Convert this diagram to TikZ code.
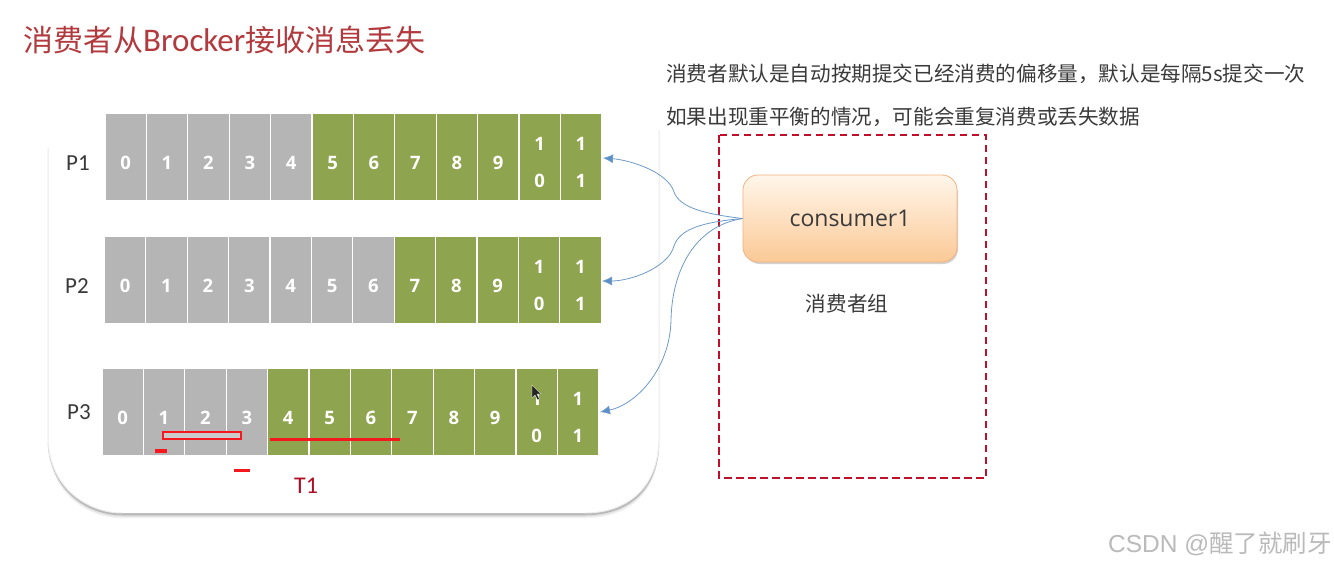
\documentclass[tikz,border=0pt]{standalone}
\usepackage{fontspec}
\setmainfont{Noto Sans CJK SC}
\newfontfamily\numfont{Open Sans}
\newfontfamily\latfont{Carlito}
\newfontfamily\wmfont{Liberation Sans}
\usetikzlibrary{arrows.meta}
\definecolor{cellgray}{HTML}{B5B5B5}
\definecolor{cellgreen}{HTML}{8EA44E}
\definecolor{titlered}{HTML}{B23A3E}
\definecolor{darkred}{HTML}{C00F2A}
\definecolor{linkblue}{HTML}{6F9BC8}
\definecolor{tipblue}{HTML}{5B8FC9}
\definecolor{txt}{HTML}{3A3A3A}
\definecolor{brdorange}{HTML}{F3B27F}
\definecolor{topfill}{HTML}{FFF6EA}
\definecolor{midfill}{HTML}{FFEBD5}
\definecolor{botfill}{HTML}{FBC996}
\definecolor{markred}{HTML}{F5181E}
\newcommand{\fsz}[1]{\fontsize{#1pt}{#1pt}\selectfont}
\tikzset{
  x=1pt,y=-1pt,
  cell/.style={minimum width=40.2pt,minimum height=86pt,inner sep=0pt,outer sep=0pt},
  celltext/.style={inner sep=0pt,text=white,align=center,font=\numfont\bfseries\fontsize{18.5pt}{37pt}\selectfont},
  plabel/.style={text=txt,font=\latfont\fsz{23},inner sep=0pt},
  link/.style={draw=linkblue,line width=0.8pt,-{Latex[length=10pt,width=9pt,fill=tipblue]}},
  redmark/.style={draw=markred,line width=3.2pt},
  cjktext/.style={text=txt,inner sep=0pt,anchor=west,font=\fsz{20.6}}
}
% #1 row name, #2 left x, #3 top y, #4 number of gray cells
\newcommand{\partrow}[4]{%
  \foreach \i in {0,...,11}{%
    \pgfmathtruncatemacro{\isgray}{\i<#4 ? 1 : 0}%
    \ifnum\isgray=1 \def\cellc{cellgray}\else\def\cellc{cellgreen}\fi
    \node[cell,fill=\cellc,anchor=north west] (#1c\i) at ({#2+41.4*\i},#3) {};
    \ifnum\i<10
      \node[celltext] (#1t\i) at ([yshift=-6pt]#1c\i.center) {\i};
    \else
      \pgfmathtruncatemacro{\low}{\i-10}%
      \node[celltext] (#1t\i) at ([yshift=-5.5pt]#1c\i.center) {1\\\low};
    \fi
  }%
}
\begin{document}
\begin{tikzpicture}
\useasboundingbox (0,0) rectangle (1334,566);
\fill[white] (0,0) rectangle (1334,566);
% panel with soft shadow
\foreach \o/\c in {5/black!5,3.5/black!12,2/black!28}{
  \draw[\c,line width=2.5pt] (49,440+\o) .. controls (52,490+\o) and (90,512+\o) .. (122,512+\o) -- (585,512+\o) .. controls (625,512+\o) and (657,490+\o) .. (658,440+\o);
}
\fill[white] (48,140) -- (48,440) .. controls (50,490) and (90,513) .. (122,513) -- (585,513) .. controls (625,513) and (658,490) .. (659,440) -- (659,140) -- cycle;
\draw[black!8,line width=1pt] (48,148) -- (48,440) .. controls (50,490) and (90,513) .. (122,513);
\draw[black!8,line width=1pt] (659,130) -- (659,440) .. controls (658,490) and (625,513) .. (585,513);
% title and notes
\node[anchor=west,inner sep=0pt,text=titlered,font=\fsz{30}] (title) at (23,40) {消费者从{\latfont\fsz{33}Brocker}接收消息丢失};
\node[cjktext] (note1) at (666,74) {消费者默认是自动按期提交已经消费的偏移量，默认是每隔5s提交一次};
\node[cjktext] (note2) at (666,117) {如果出现重平衡的情况，可能会重复消费或丢失数据};
% rows
\partrow{a}{105.5}{114}{5}
\partrow{b}{105}{237}{7}
\partrow{c}{102.5}{369}{4}
\node[plabel] (p1) at (78,163) {P1};
\node[plabel] (p2) at (77,286.5) {P2};
\node[plabel] (p3) at (79,412) {P3};
% consumer group
\draw[darkred,line width=2.6pt,dash pattern=on 7.5pt off 4.5pt] (719,135) rectangle (986,478);
\fill[black!18,rounded corners=15pt] (745,179) rectangle (958,264);
\node[draw=brdorange,line width=0.8pt,rounded corners=15pt,top color=topfill,middle color=midfill,bottom color=botfill,
  minimum width=214pt,minimum height=87pt,inner sep=0pt,text=txt,font=\numfont\fsz{23}] (cons) at (850,218.5) {consumer1};
\node[text=txt,inner sep=0pt,font=\fsz{20.6}] (group) at (847,304) {消费者组};
% connectors
\coordinate (tip1) at (603,158);
\coordinate (tip2) at (602,281);
\coordinate (tip3) at (600,412);
\draw[link] (cons.west) .. controls (705,214) and (680,208) .. (674,192) .. controls (668,172) and (630,160) .. (tip1);
\draw[link] (cons.west) .. controls (705,222) and (680,228) .. (674,246) .. controls (668,268) and (630,281) .. (tip2);
\draw[link] (cons.west) .. controls (695,226) and (672,270) .. (671,320) .. controls (670,370) and (635,405) .. (tip3);
% red annotations
\fill[cellgray!70!white] (163,432) rectangle (241,439);
\draw[markred,line width=2pt] (163,432) rectangle (241,439);
\draw[redmark] (270,439.5) -- (400,439.5);
\draw[redmark] (155,451) -- (167,451);
\draw[redmark] (234,470.5) -- (250,470.5);
\node[inner sep=0pt,text=darkred!90!black,font=\latfont\fsz{24}] (t1) at (306,486) {T1};
% mouse pointer
\fill[black!85,draw=white,line width=0.3pt] (532,385) -- (532,398) -- (535,395) -- (537.5,400) -- (539.5,399) -- (537,394) -- (541,394) -- cycle;
% watermark
\node[anchor=east,inner sep=0pt,text=black!27,font=\wmfont\fsz{24.5}] (wm) at (1332,544) {CSDN @{\rmfamily\fsz{24.5}醒了就刷牙}};
\end{tikzpicture}
\end{document}
